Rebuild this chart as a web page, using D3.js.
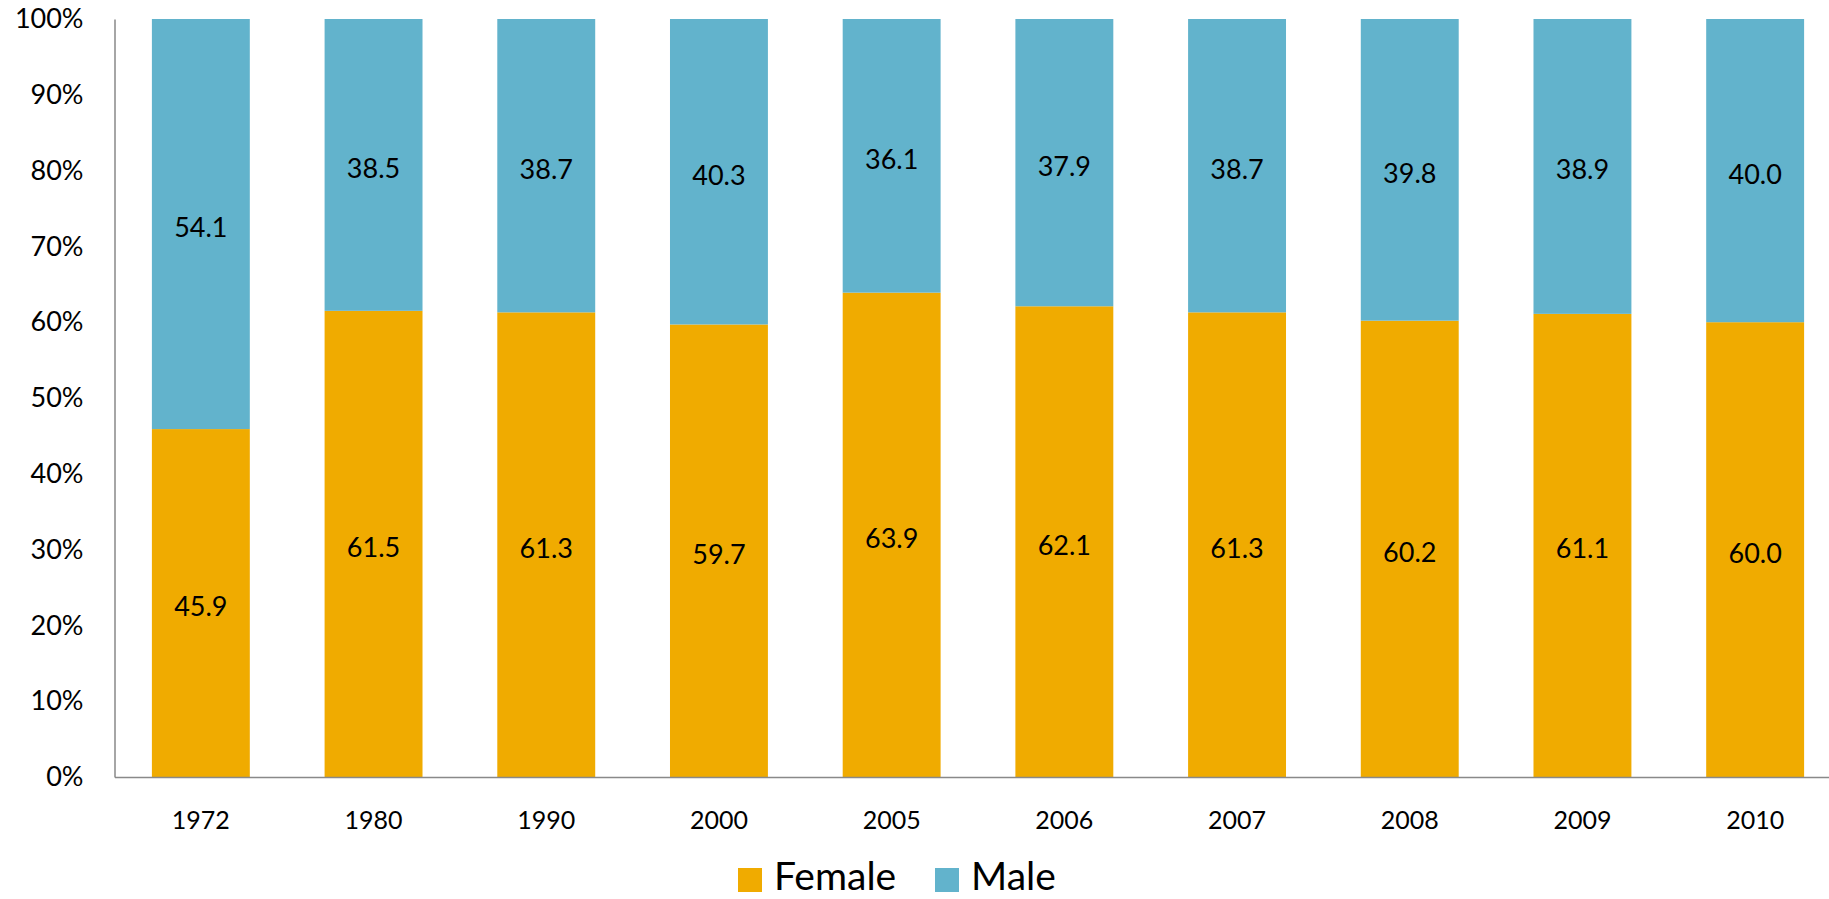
<!DOCTYPE html>
<html>
<head>
<meta charset="utf-8">
<script src="https://cdn.jsdelivr.net/npm/d3@7/dist/d3.min.js"></script>
<style>
  body { margin: 0; background: #fff; overflow: hidden; }
  svg { display: block; font-family: Lato, "Open Sans", sans-serif; }
</style>
</head>
<body>
<svg id="chart"></svg>
<script>
// stacked 100% columns, female vs male

var years = ["1972", "1980", "1990", "2000", "2005", "2006", "2007", "2008", "2009", "2010"];
var female = [45.9, 61.5, 61.3, 59.7, 63.9, 62.1, 61.3, 60.2, 61.1, 60.0];
var male = [54.1, 38.5, 38.7, 40.3, 36.1, 37.9, 38.7, 39.8, 38.9, 40.0];
var seriesNames = ["Female", "Male"];
var yTicks = [0, 10, 20, 30, 40, 50, 60, 70, 80, 90, 100];

var width = 1829;
var height = 899;

// plot area (right side runs past the window, like the original)
var margin = { top: 19, left: 114.5, bottom: 777, right: 1841.5 };

var colors = { Female: "#F0AB00", Male: "#62B3CC" };

var svg = d3.select("#chart")
    .attr("width", width)
    .attr("height", height);

// build rows for the stack
var rows = years.map(function(y, i) {
    return { year: y, Female: female[i], Male: male[i] };
});
var stacked = d3.stack().keys(seriesNames)(rows);

// SCALES
var x = d3.scaleBand()
    .domain(years)
    .range([margin.left, margin.right])
    .paddingInner(0.433)
    .paddingOuter(0.2165);

var y = d3.scaleLinear()
    .domain([0, 100])
    .range([margin.bottom, margin.top]);

// BARS
var groups = svg.append("g").selectAll("g.series")
    .data(stacked)
    .enter()
    .append("g")
    .attr("fill", function(d) { return colors[d.key]; });

groups.selectAll("rect")
    .data(function(d) { return d; })
    .enter()
    .append("rect")
    .attr("x", function(d) { return x(d.data.year); })
    .attr("y", function(d) { return y(d[1]); })
    .attr("width", x.bandwidth())
    .attr("height", function(d) { return y(d[0]) - y(d[1]); });

// value labels
groups.selectAll("text")
    .data(function(d) { return d.map(function(p) { return { p: p, key: d.key }; }); })
    .enter()
    .append("text")
    .attr("x", function(d) { return x(d.p.data.year) + x.bandwidth() / 2; })
    .attr("y", function(d) { return y((d.p[0] + d.p[1]) / 2) + 13; })
    .attr("text-anchor", "middle")
    .attr("fill", "#000")
    .style("font-size", "27px")
    .text(function(d) { return d.p.data[d.key].toFixed(1); });

// AXES
var yAxis = svg.append("g")
    .attr("transform", "translate(" + margin.left + ",0)")
    .call(d3.axisLeft(y)
        .tickValues(yTicks)
        .tickSize(0)
        .tickPadding(31)
        .tickFormat(function(d) { return d + "%"; }));

yAxis.attr("font-family", null).attr("font-size", null);
yAxis.select(".domain").attr("stroke", "#898989").attr("stroke-width", 1.5);
yAxis.selectAll("text").style("font-size", "27px").attr("fill", "#000");

var xAxis = svg.append("g")
    .attr("transform", "translate(0," + margin.bottom + ")")
    .call(d3.axisBottom(x).tickSize(0).tickPadding(34));

xAxis.attr("font-family", null).attr("font-size", null);
xAxis.select(".domain").attr("stroke", "#898989").attr("stroke-width", 1.5);
xAxis.selectAll("text").style("font-size", "25px").attr("fill", "#000");

// LEGEND
var legendItems = [
    { name: "Female", sx: 738, tx: 774 },
    { name: "Male", sx: 935, tx: 971 }
];

var legend = svg.append("g");
legend.selectAll("rect")
    .data(legendItems)
    .enter()
    .append("rect")
    .attr("x", function(d) { return d.sx; })
    .attr("y", 868)
    .attr("width", 24)
    .attr("height", 24)
    .attr("fill", function(d) { return colors[d.name]; });

legend.selectAll("text")
    .data(legendItems)
    .enter()
    .append("text")
    .attr("x", function(d) { return d.tx; })
    .attr("y", 890)
    .style("font-size", "39px")
    .attr("fill", "#000")
    .text(function(d) { return d.name; });
</script>
</body>
</html>
